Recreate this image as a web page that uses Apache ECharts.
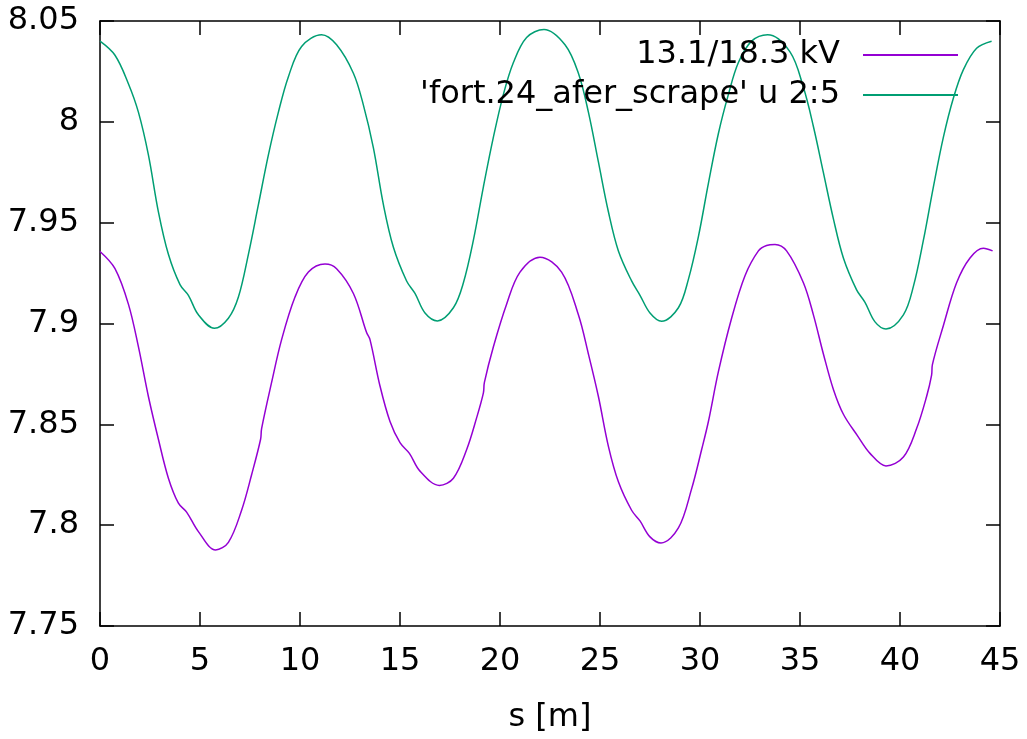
<!DOCTYPE html>
<html>
<head>
<meta charset="utf-8">
<script src="https://cdn.jsdelivr.net/npm/echarts@6/dist/echarts.min.js"></script>
<style>html,body{margin:0;padding:0;background:#fff}#c{width:1027px;height:739px}</style>
</head>
<body>
<div id="c"></div>
<script>
const xTicks = [0,5,10,15,20,25,30,35,40,45];
const yTicks = [7.75,7.8,7.85,7.9,7.95,8,8.05];
const seriesNames = ["13.1/18.3 kV", "'fort.24_afer_scrape' u 2:5"];

const sPurple = [0,0.75,1.42,1.92,2.42,2.92,3.42,3.92,4.33,4.92,5.78,6.42,7.08,7.58,8.03,8.08,8.58,9.08,9.75,10.42,11.25,
  11.83,12.67,13.33,13.5,14.0,14.5,15.0,15.47,16.0,16.97,17.67,18.33,18.83,19.17,19.22,19.67,20.33,21.0,22.0,
  23.08,23.92,24.42,24.92,25.42,25.92,26.58,27.0,27.5,28.05,28.92,29.58,30.08,30.42,30.92,31.58,32.25,32.92,33.33,33.75,
  34.33,35.17,35.67,36.17,36.67,37.17,37.87,38.5,39.3,40.17,40.83,41.33,41.58,41.62,42.17,42.83,43.5,44.17,44.63];
const vPurple = [7.9357,7.9272,7.9096,7.8885,7.8638,7.8426,7.8233,7.8109,7.8065,7.7968,7.7877,7.7915,7.8074,7.8250,7.8426,7.8479,7.8708,7.8920,7.9131,7.9255,7.9295,
  7.9272,7.9149,7.8955,7.8920,7.8690,7.8514,7.8409,7.8356,7.8268,7.8197,7.8233,7.8374,7.8532,7.8656,7.8708,7.8885,7.9096,7.9255,7.9329,
  7.9255,7.9043,7.8849,7.8638,7.8391,7.8215,7.8074,7.8021,7.7942,7.7912,7.7986,7.8180,7.8374,7.8514,7.8761,7.9026,7.9237,7.9360,7.9387,7.9392,
  7.9360,7.9202,7.9043,7.8849,7.8673,7.8550,7.8444,7.8356,7.8294,7.8338,7.8479,7.8638,7.8744,7.8796,7.8990,7.9202,7.9325,7.9373,7.9360];

const sGreen = [0,0.75,1.42,1.92,2.42,2.92,3.42,4.0,4.42,4.92,5.72,6.42,6.92,7.42,7.92,8.42,8.92,9.42,10.08,11.08,
  11.83,12.67,13.17,13.67,14.17,14.67,15.33,15.75,16.25,16.87,17.67,18.17,18.67,19.17,19.67,20.17,20.67,21.33,22.2,
  23.25,23.92,24.42,24.92,25.42,25.92,26.58,27.0,27.5,28.08,28.92,29.42,29.92,30.42,30.92,31.42,31.92,32.58,33.38,
  34.5,35.17,35.67,36.17,36.67,37.17,37.83,38.25,38.75,39.3,40.17,40.67,41.17,41.67,42.17,42.67,43.17,43.83,44.58];
const vGreen = [8.0400,8.0330,8.0189,8.0048,7.9836,7.9554,7.9343,7.9193,7.9140,7.9043,7.8976,7.9026,7.9131,7.9343,7.9589,7.9836,8.0048,8.0224,8.0374,8.0432,
  8.0382,8.0241,8.0083,7.9871,7.9589,7.9378,7.9211,7.9149,7.9052,7.9013,7.9078,7.9202,7.9413,7.9678,7.9924,8.0136,8.0294,8.0418,8.0458,
  8.0382,8.0241,8.0048,7.9801,7.9554,7.9360,7.9211,7.9140,7.9052,7.9011,7.9078,7.9219,7.9431,7.9695,7.9942,8.0136,8.0294,8.0400,8.0432,
  8.0347,8.0171,7.9977,7.9748,7.9519,7.9325,7.9167,7.9105,7.9008,7.8973,7.9043,7.9184,7.9413,7.9678,7.9924,8.0118,8.0259,8.0365,8.0400];

const FONT = 'DejaVu Sans';
const FS = 32;
const chart = echarts.init(document.getElementById('c'), null, {renderer: 'canvas'});
function axisLine() { return {show: true, onZero: false, lineStyle: {color: '#000', width: 1.5}}; }
function tick() { return {show: true, inside: true, length: 14, lineStyle: {color: '#000', width: 1.5}}; }
function lbl(extra) { return Object.assign({fontSize: FS, fontFamily: FONT, color: '#000'}, extra || {}); }
const xMin = xTicks[0], xMax = xTicks[xTicks.length-1], xInt = xTicks[1]-xTicks[0];
const yMin = yTicks[0], yMax = yTicks[yTicks.length-1], yInt = 0.05;

chart.setOption({
  animation: false,
  backgroundColor: '#fff',
  grid: {left: 100, right: 27, top: 21, bottom: 110, containLabel: false},
  legend: {
    orient: 'vertical', right: 64, top: 34, align: 'right',
    icon: 'rect', itemWidth: 95, itemHeight: 2, itemGap: 8,
    textStyle: {fontSize: FS, fontFamily: FONT, color: '#000', lineHeight: 30, padding: [0, 18, 0, 0]},
    data: seriesNames
  },
  xAxis: [
    {type: 'value', position: 'bottom', min: xMin, max: xMax, interval: xInt,
     name: 's [m]', nameLocation: 'middle', nameGap: 76,
     nameTextStyle: {fontSize: FS, fontFamily: FONT, color: '#000'},
     axisLine: axisLine(), axisTick: tick(), splitLine: {show: false},
     axisLabel: lbl({margin: 20})},
    {type: 'value', position: 'top', min: xMin, max: xMax, interval: xInt,
     axisLine: axisLine(), axisTick: tick(), splitLine: {show: false}, axisLabel: {show: false}}
  ],
  yAxis: [
    {type: 'value', position: 'left', min: yMin, max: yMax, interval: yInt,
     axisLine: axisLine(), axisTick: tick(), splitLine: {show: false},
     axisLabel: lbl({margin: 21, formatter: v => String(+v.toFixed(2))})},
    {type: 'value', position: 'right', min: yMin, max: yMax, interval: yInt,
     axisLine: axisLine(), axisTick: tick(), splitLine: {show: false}, axisLabel: {show: false}}
  ],
  series: [
    {name: seriesNames[0], type: 'line', showSymbol: false, smooth: 0.35,
     color: '#9400d3', lineStyle: {width: 1.5, color: '#9400d3'},
     data: sPurple.map((s, i) => [s, vPurple[i]])},
    {name: seriesNames[1], type: 'line', showSymbol: false, smooth: 0.35,
     color: '#009e73', lineStyle: {width: 1.5, color: '#009e73'},
     data: sGreen.map((s, i) => [s, vGreen[i]])}
  ]
});
</script>
</body>
</html>
